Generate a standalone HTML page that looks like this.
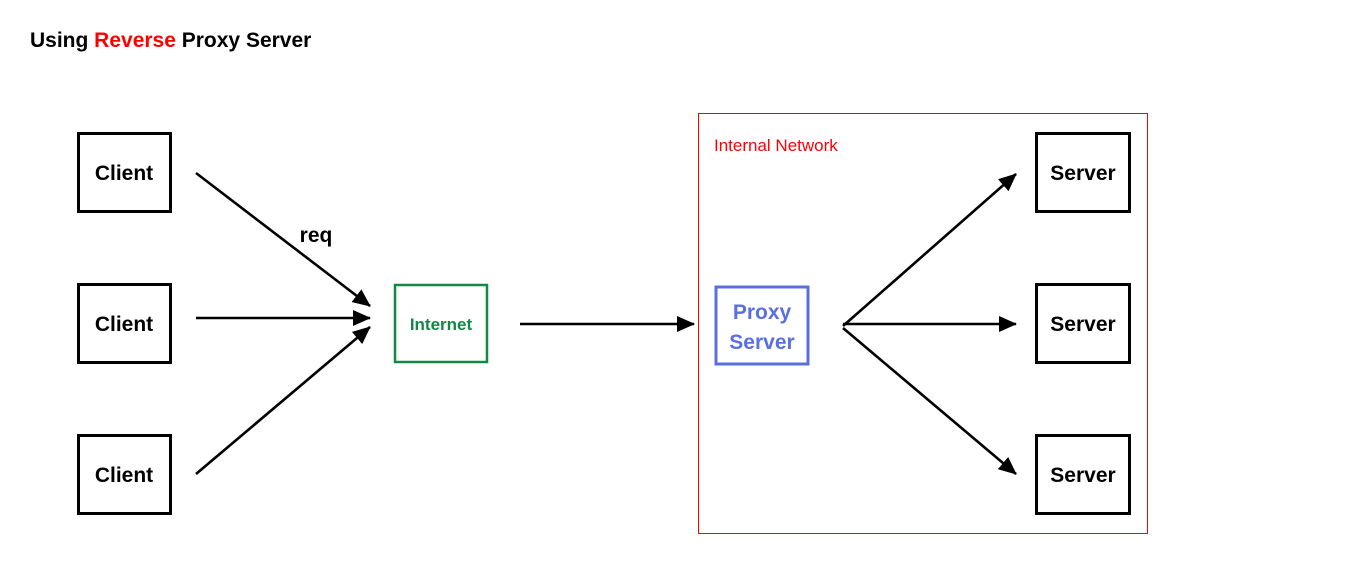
<!DOCTYPE html>
<html><head><style>
html,body{margin:0;padding:0;background:#fff;}
svg{display:block;font-family:"Liberation Sans","DejaVu Sans",sans-serif;}
</style></head><body>
<svg width="1361" height="573" viewBox="0 0 1361 573" xmlns="http://www.w3.org/2000/svg">
<defs>
<marker id="ah" viewBox="0 0 18 16" refX="17" refY="8" markerWidth="18" markerHeight="16" orient="auto" markerUnits="userSpaceOnUse"><path d="M0,0 L18,8 L0,16 z" fill="#000"/></marker>
</defs>
<text x="30" y="47" font-size="21" font-weight="bold" fill="#000">Using <tspan fill="#f00">Reverse</tspan> Proxy Server</text>
<rect x="698.5" y="113.5" width="449" height="420" fill="none" stroke="#f00" stroke-width="1"/>
<text x="714" y="151" font-size="17" fill="#f00">Internal Network</text>
<g fill="none" stroke="#000" stroke-width="3">
<rect x="78.5" y="133.5" width="92" height="78"/>
<rect x="78.5" y="284.5" width="92" height="78"/>
<rect x="78.5" y="435.5" width="92" height="78"/>
<rect x="1036.5" y="133.5" width="93" height="78"/>
<rect x="1036.5" y="284.5" width="93" height="78"/>
<rect x="1036.5" y="435.5" width="93" height="78"/>
</g>
<rect x="395" y="285" width="92" height="77" fill="none" stroke="#118844" stroke-width="2.5"/>
<rect x="716" y="287" width="92" height="77" fill="none" stroke="#5a6fe0" stroke-width="3"/>
<g font-size="21" font-weight="bold" text-anchor="middle" fill="#000">
<text x="124" y="180">Client</text>
<text x="124" y="331">Client</text>
<text x="124" y="482">Client</text>
<text x="1083" y="180">Server</text>
<text x="1083" y="331">Server</text>
<text x="1083" y="482">Server</text>
<text x="316" y="242">req</text>
</g>
<text x="441" y="330" font-size="17" font-weight="bold" text-anchor="middle" fill="#118844">Internet</text>
<text x="762" y="319" font-size="21" font-weight="bold" text-anchor="middle" fill="#5a6fe0">Proxy</text>
<text x="762" y="349" font-size="21" font-weight="bold" text-anchor="middle" fill="#5a6fe0">Server</text>
<g stroke="#000" stroke-width="2.6" fill="none" marker-end="url(#ah)">
<line x1="196" y1="173" x2="370" y2="306"/>
<line x1="196" y1="318" x2="370" y2="318"/>
<line x1="196" y1="474" x2="370" y2="327"/>
<line x1="520" y1="324" x2="694" y2="324"/>
<line x1="843" y1="326" x2="1016" y2="174"/>
<line x1="843" y1="324" x2="1016" y2="324"/>
<line x1="843" y1="328" x2="1016" y2="474"/>
</g>
</svg>
</body></html>
